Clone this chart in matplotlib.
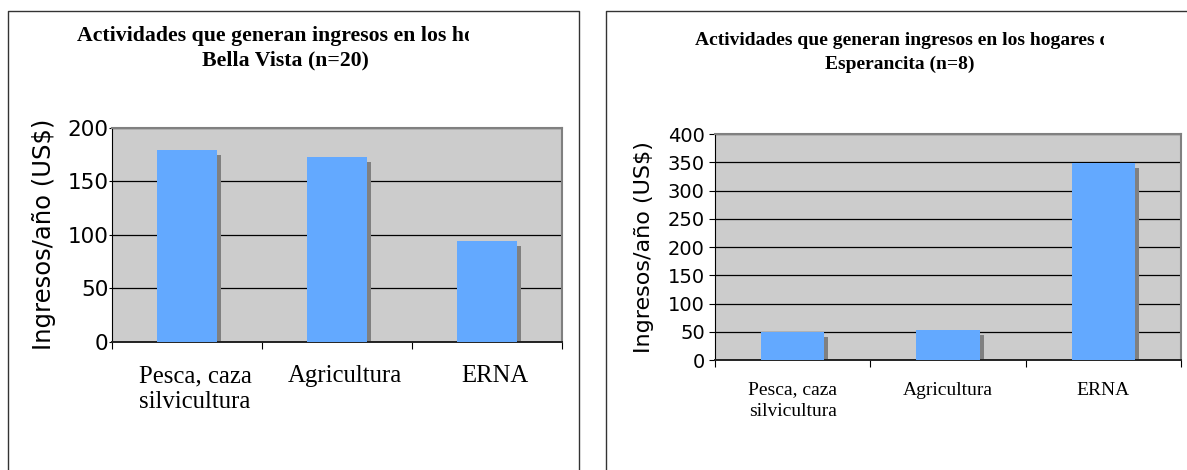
import numpy as np
import matplotlib
matplotlib.use("Agg")
import matplotlib.pyplot as plt
from matplotlib.lines import Line2D
from matplotlib.transforms import offset_copy, Bbox, TransformedBbox

# datos
categorias = ["Pesca, caza\nsilvicultura", "Agricultura", "ERNA"]
bella_vista = [179, 173, 94]
esperancita = [50, 53, 349]

titulo_izq = ["Actividades que generan ingresos en los hogares de", "Bella Vista (n=20)"]
titulo_der = ["Actividades que generan ingresos en los hogares de", "Esperancita (n=8)"]
etiqueta_y = "Ingresos/año (US$)"

W, H = 1187, 470
AZUL = "#63A9FF"
SOMBRA = "#808080"
FONDO = "#CCCCCC"
SERIF = "Liberation Serif"
SANS = "DejaVu Sans"

fig = plt.figure(figsize=(W / 100, H / 100), dpi=100, facecolor="white")


def fx(x):
    return x / W


def fy(y):
    return 1 - y / H


def panel(box, valores, ymax, paso, titulo, t_izq, t_der, t_centro, t_y,
          fs_tit, fs_cat, fs_num, fs_lab, pad_cat, lspace, lab_x, ylen, ypad, dx_cat=0):
    x0, y0, x1, y1 = box
    ax = fig.add_axes([fx(x0), fy(y1), (x1 - x0) / W, (y1 - y0) / H])
    ax.set_facecolor(FONDO)
    x = np.arange(len(valores))

    # sombra desplazada unos píxeles, luego la barra
    sombra_tr = offset_copy(ax.transData, fig=fig, x=4, y=-5, units="dots")
    ax.bar(x, valores, width=0.406, color=SOMBRA, transform=sombra_tr, zorder=2)
    ax.bar(x, valores, width=0.406, color=AZUL, zorder=3)

    ax.set_xlim(-0.5, len(valores) - 0.5)
    ax.set_ylim(0, ymax)
    ax.set_yticks(np.arange(0, ymax + 1, paso))
    ax.yaxis.grid(True, color="black", linewidth=0.9)
    ax.set_axisbelow(True)

    # marcas entre categorías; los textos van en ticks menores sin marca
    ax.set_xticks(np.arange(-0.5, len(valores), 1))
    ax.set_xticklabels([])
    ancho_cat = (x1 - x0) / len(valores)
    ax.set_xticks(x + dx_cat / ancho_cat, minor=True)
    ax.set_xticklabels(categorias, minor=True, fontsize=fs_cat, family=SERIF)
    for lbl in ax.get_xticklabels(minor=True):
        lbl.set_linespacing(lspace)
        lbl.set_multialignment("center")
    ax.tick_params(axis="x", which="major", length=5, width=0.8, color="black")
    ax.tick_params(axis="x", which="minor", length=0, pad=pad_cat)
    ax.tick_params(axis="y", length=ylen, width=0.8, pad=ypad, labelsize=fs_num)
    for lbl in ax.get_yticklabels():
        lbl.set_family(SANS)

    for s in ["top", "right"]:
        ax.spines[s].set_color("#808080")
        ax.spines[s].set_linewidth(1.5)
    ax.spines["left"].set_color("black")
    ax.spines["left"].set_linewidth(0.8)
    ax.spines["bottom"].set_color("#222222")
    ax.spines["bottom"].set_linewidth(1.4)

    ax.set_ylabel(etiqueta_y, fontsize=fs_lab, family=SANS)
    ax.yaxis.set_label_coords((lab_x - x0) / (x1 - x0), 0.5)

    # título: la primera línea queda cortada en el cuadro de texto
    t = fig.text(fx(t_izq), fy(t_y[0]), titulo[0], ha="left", va="baseline",
                 family=SERIF, weight="bold", fontsize=fs_tit)
    t.set_clip_box(TransformedBbox(Bbox([[0, 0], [fx(t_der), 1]]), fig.transFigure))
    t.set_clip_on(True)
    fig.text(fx(t_centro), fy(t_y[1]), titulo[1], ha="center", va="baseline",
             family=SERIF, weight="bold", fontsize=fs_tit)
    return ax


panel((112, 128, 562, 341.5), bella_vista, 200, 50, titulo_izq,
      77, 469, 285, (41.5, 65.5),
      fs_tit=15.7, fs_cat=17.8, fs_num=15.5, fs_lab=17.5,
      pad_cat=17, lspace=1.2, lab_x=56, ylen=2.2, ypad=0.5, dx_cat=8)

panel((715, 134, 1181, 360), esperancita, 400, 50, titulo_der,
      695, 1104, 900, (45, 69),
      fs_tit=14, fs_cat=14, fs_num=14, fs_lab=16,
      pad_cat=15.5, lspace=1.35, lab_x=654, ylen=4.3, ypad=3)

# marcos de cada gráfico
marco = dict(color="#333333", linewidth=1.0)
fig.add_artist(Line2D([fx(7.5), fx(7.5), fx(579), fx(579)],
                      [fy(H), fy(11), fy(11), fy(H)], transform=fig.transFigure, **marco))
fig.add_artist(Line2D([fx(606), fx(606), fx(W)],
                      [fy(H), fy(11), fy(11)], transform=fig.transFigure, **marco))

fig.savefig("out.png", dpi=100, facecolor="white")
